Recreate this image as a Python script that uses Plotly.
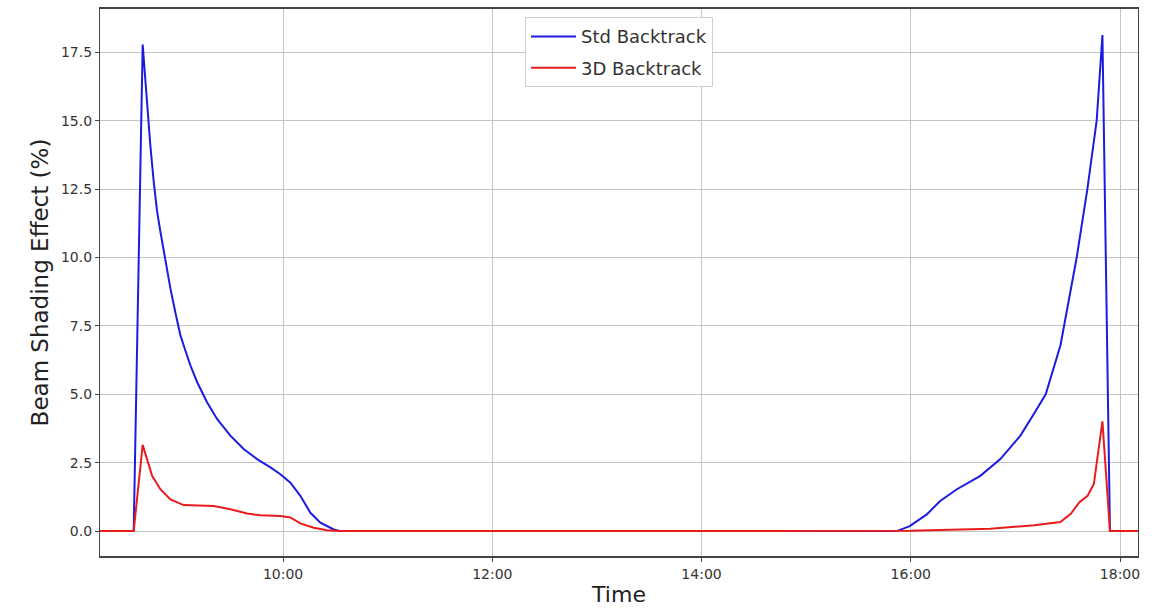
import plotly.graph_objects as go

# time of day in decimal hours
std_hours = [8.25, 8.572, 8.658, 8.715, 8.731, 8.763, 8.795, 8.827, 8.875, 8.923, 8.970,
             9.018, 9.066, 9.114, 9.178, 9.273, 9.369, 9.496, 9.623, 9.751, 9.879,
             9.974, 10.070, 10.165, 10.261, 10.356, 10.484, 10.548,
             15.866, 15.99, 16.153, 16.281, 16.441, 16.665, 16.856, 17.048, 17.176,
             17.29, 17.431, 17.527, 17.586, 17.688, 17.777, 17.832, 17.904, 18.172]
std_values = [0, 0, 17.78, 14.87, 14.1, 12.79, 11.7, 10.95, 9.85, 8.87, 8.0,
              7.16, 6.6, 6.06, 5.45, 4.71, 4.1, 3.49, 3.0, 2.63, 2.33,
              2.08, 1.77, 1.29, 0.67, 0.31, 0.06, 0,
              0, 0.18, 0.61, 1.10, 1.53, 2.02, 2.63, 3.49, 4.28,
              5.0, 6.79, 8.75, 10.0, 12.5, 15.0, 18.13, 0, 0]

d3_hours = [8.25, 8.572, 8.658, 8.748, 8.827, 8.923, 9.050, 9.209, 9.337, 9.496, 9.656,
            9.783, 9.974, 10.070, 10.165, 10.293, 10.421, 10.548,
            15.866, 16.0, 16.76, 17.18, 17.43, 17.53, 17.61, 17.69, 17.75, 17.832,
            17.904, 18.172]
d3_values = [0, 0, 3.15, 2.02, 1.53, 1.16, 0.95, 0.92, 0.92, 0.80, 0.64,
             0.58, 0.55, 0.50, 0.28, 0.12, 0.03, 0,
             0, 0.01, 0.09, 0.21, 0.33, 0.63, 1.05, 1.29, 1.72, 4.01,
             0, 0]

x_tick_hours = [10, 12, 14, 16, 18]
x_tick_labels = ["10:00", "12:00", "14:00", "16:00", "18:00"]
y_ticks = [0, 2.5, 5.0, 7.5, 10.0, 12.5, 15.0, 17.5]

FONT = "DejaVu Sans"

fig = go.Figure()
fig.add_trace(go.Scatter(x=std_hours, y=std_values, mode="lines",
                         name="Std Backtrack", line=dict(color="#1c1ce0", width=2),
                         legendgroup="a"))
fig.add_trace(go.Scatter(x=d3_hours, y=d3_values, mode="lines",
                         name="3D Backtrack", line=dict(color="#e81c1c", width=2),
                         legendgroup="b"))

fig.update_layout(
    width=1158, height=610,
    margin=dict(l=100, r=20, t=7, b=53),
    paper_bgcolor="white", plot_bgcolor="white",
    font=dict(family=FONT, color="#222222"),
    showlegend=True,
    legend=dict(x=0.5, xanchor="center", y=0.985, yanchor="top",
                bgcolor="white", bordercolor="#d0d0d0", borderwidth=1,
                font=dict(size=18, family=FONT, color="#333333"),
                itemwidth=45,
                traceorder="grouped", tracegroupgap=5),
)
fig.update_xaxes(
    range=[8.25, 18.172],
    tickvals=x_tick_hours,
    ticktext=x_tick_labels,
    tickfont=dict(size=14, family=FONT, color="#333333"),
    title=dict(text="Time", font=dict(size=22, family=FONT, color="#222222"), standoff=6),
    showgrid=True, gridcolor="#c4c4c4", gridwidth=1,
    showline=True, linecolor="#444444", linewidth=2, mirror=True,
    ticks="outside", ticklen=4, tickcolor="#444444",
    zeroline=False,
)
fig.update_yaxes(
    range=[-0.91, 19.08],
    tickvals=y_ticks,
    tickformat=".1f",
    tickfont=dict(size=14, family=FONT, color="#333333"),
    title=dict(text="Beam Shading Effect (%)", font=dict(size=23, family=FONT, color="#222222"),
               standoff=5),
    showgrid=True, gridcolor="#c4c4c4", gridwidth=1,
    showline=True, linecolor="#444444", linewidth=1.2, mirror=True,
    ticks="outside", ticklen=4, tickcolor="#444444",
    zeroline=False,
)

fig.write_html("out.html")
